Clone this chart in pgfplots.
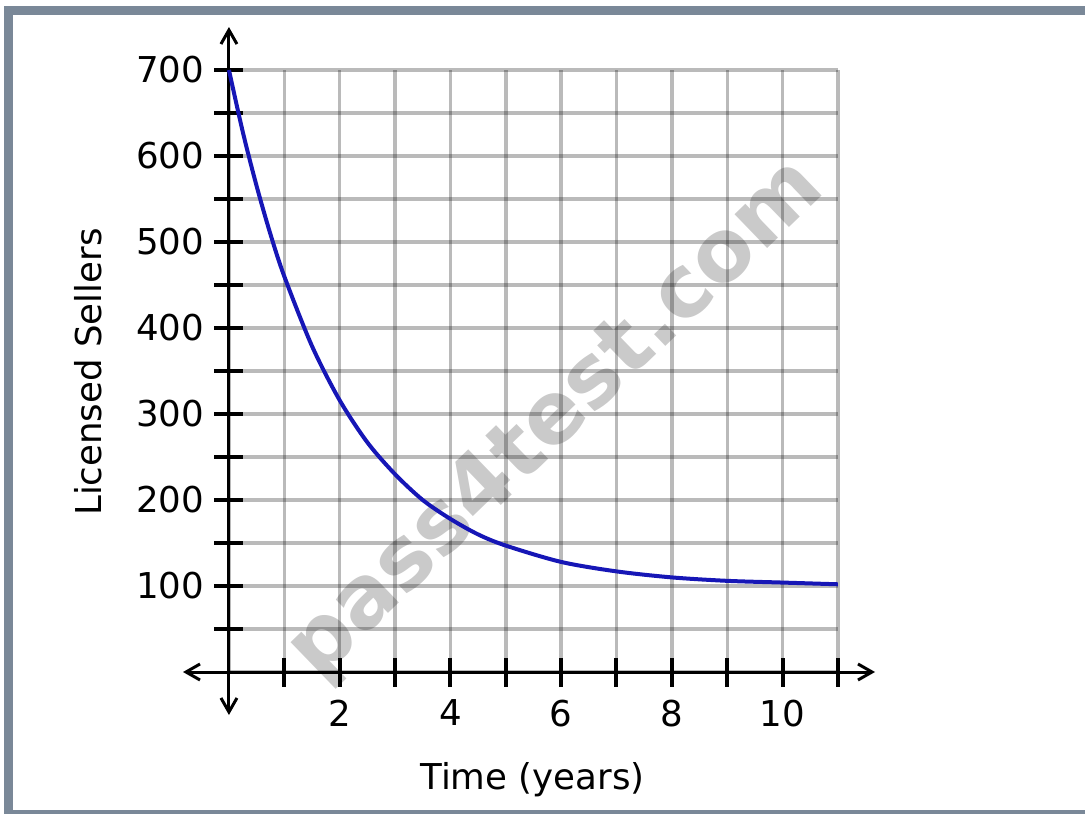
\documentclass[border=0pt]{standalone}
\usepackage{pgfplots}
\pgfplotsset{compat=1.18}
\usepackage{fontspec}
\setmainfont{DejaVu Sans}
\setsansfont{DejaVu Sans}
\usetikzlibrary{arrows.meta}

\definecolor{framec}{RGB}{122,136,152}
\definecolor{curvec}{RGB}{22,22,182}

% curve values
\pgfplotstableread{
t    n
0    700
0.25 628
0.5  565
0.75 509
1    460
1.5  379
2    316
2.5  267
3    230
3.5  200
4    178
4.5  160
5    147
6    128
7    117
8    110
9    106
10   104
11   102
}\sellers

\begin{document}
\begin{tikzpicture}
\path[use as bounding box] (0,0) rectangle (542.5pt,407pt);
% frame
\fill[framec] (2pt,0) rectangle (6.5pt,404pt);
\fill[framec] (2pt,399.5pt) rectangle (542.5pt,404pt);
\fill[framec] (2pt,0) rectangle (542.5pt,2pt);

% watermark (under the grid)
\node[rotate=44, text=gray, opacity=0.42, font=\bfseries\fontsize{43}{50}\selectfont] at (278.5pt,197pt) {pass4test.com};

% grid only
\begin{axis}[
    at={(114.5pt,71pt)}, anchor=south west,
    x=27.68pt, y=0.43pt,
    xmin=0, xmax=11, ymin=0, ymax=700,
    enlargelimits=false,
    axis line style={draw=none},
    xtick={0,1,...,11}, ytick={0,50,...,700},
    xticklabels={}, yticklabels={},
    major tick length=0pt,
    grid=major,
    major grid style={black, opacity=0.27, line width=1.7pt},
]
\end{axis}

\begin{axis}[
    at={(91.5pt,49.5pt)}, anchor=south west,
    x=27.68pt, y=0.43pt,
    xmin=-0.83, xmax=11.67, ymin=-50, ymax=750,
    enlargelimits=false,
    axis lines=middle,
    axis line style={black, line width=1.5pt,
        {Straight Barb[length=7pt,width=8pt]}-{Straight Barb[length=7pt,width=8pt]}},
    xtick={1,...,11},
    xticklabels={,2,,4,,6,,8,,10,},
    ytick={50,100,...,700},
    yticklabels={,100,,200,,300,,400,,500,,600,,700},
    tick align=center,
    major tick length=14.5pt,
    tick style={black, line width=2pt},
    /pgf/number format/assume math mode=true,
    ticklabel style={font=\fontsize{17.8}{21}\selectfont},
    xticklabel style={anchor=north, inner sep=0pt, yshift=-6.5pt},
    yticklabel style={anchor=east, inner sep=0pt, xshift=-5pt},
    xlabel={Time (years)},
    ylabel={Licensed Sellers},
    every axis x label/.style={at={(axis description cs:0.505,0)}, anchor=base, yshift=-37pt, font=\fontsize{17.8}{21}\selectfont},
    every axis y label/.style={at={(axis description cs:-0.118,0.4985)}, rotate=90, anchor=base, font=\fontsize{17.8}{21}\selectfont},
    clip=false,
]
\addplot[smooth, color=curvec, line width=2pt] table[x=t, y=n] {\sellers};
\end{axis}
\end{tikzpicture}
\end{document}
